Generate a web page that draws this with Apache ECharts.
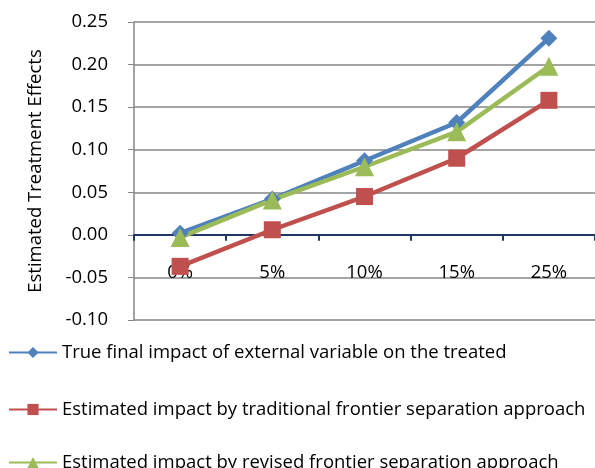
<!DOCTYPE html>
<html>
<head>
<meta charset="utf-8">
<script src="https://cdn.jsdelivr.net/npm/echarts@6/dist/echarts.min.js"></script>
<style>
html, body { margin: 0; padding: 0; background: #fff; }
#container { width: 595px; height: 468px; }
</style>
</head>
<body>
<div id="container"></div>
<script>
// 数据
var categories = ['0%', '5%', '10%', '15%', '25%'];
var trueImpact = [0.002, 0.042, 0.087, 0.132, 0.231];
var traditional = [-0.037, 0.006, 0.045, 0.090, 0.158];
var revised = [-0.003, 0.041, 0.080, 0.121, 0.198];
var seriesNames = [
    'True final impact of external variable on the treated',
    'Estimated impact by traditional frontier separation approach',
    'Estimated impact by revised frontier separation approach'
];

var dom = document.getElementById("container");
var myChart = echarts.init(dom);
var font = 'Open Sans';
var fs = 18.5;

// 图例分三个放，避免竖排时换列
var legendTops = [343, 400, 453];
var legends = seriesNames.map(function (n, i) {
    return {
        orient: 'vertical',
        left: 8,
        top: legendTops[i],
        padding: 0,
        itemWidth: 48,
        itemHeight: 14,
        itemGap: 5,
        textStyle: { color: '#000', fontSize: fs, fontFamily: font },
        data: [n]
    };
});

myChart.setOption({
    animation: false,
    textStyle: { fontFamily: font },
    grid: { left: 134, right: 0, top: 22, height: 298 },
    xAxis: [{
        type: 'category',
        data: categories,
        boundaryGap: true,
        axisLine: { onZero: true, lineStyle: { color: '#1F3864', width: 2 } },
        axisTick: { show: true, length: 6, lineStyle: { color: '#1F3864', width: 2 } },
        axisLabel: { show: false }
    }, {
        // 只用来放标签，挪到零线下方
        type: 'category',
        data: categories,
        position: 'bottom',
        offset: -85,
        boundaryGap: true,
        axisLine: { show: false },
        axisTick: { show: false },
        axisLabel: { margin: 28, color: '#000', fontSize: fs, fontFamily: font }
    }],
    yAxis: {
        type: 'value',
        min: -0.10, max: 0.25, interval: 0.05,
        name: 'Estimated Treatment Effects',
        nameLocation: 'middle',
        nameGap: 89,
        nameTextStyle: { color: '#000', fontSize: fs, fontFamily: font },
        axisLine: { show: true, lineStyle: { color: '#868686', width: 1.5 } },
        axisTick: { show: true, length: 6, lineStyle: { color: '#868686' } },
        axisLabel: { margin: 26, color: '#000', fontSize: fs, fontFamily: font,
            formatter: function (v) { return v.toFixed(2); } },
        splitLine: { lineStyle: { color: '#868686', width: 1.5 } }
    },
    legend: legends,
    series: [{
        name: seriesNames[0],
        type: 'line',
        data: trueImpact,
        symbol: 'diamond',
        symbolSize: 17,
        lineStyle: { color: '#4F81BD', width: 4.5 },
        itemStyle: { color: '#4F81BD' }
    }, {
        name: seriesNames[1],
        type: 'line',
        data: traditional,
        symbol: 'rect',
        symbolSize: 17,
        lineStyle: { color: '#C0504D', width: 4.5 },
        itemStyle: { color: '#C0504D' }
    }, {
        name: seriesNames[2],
        type: 'line',
        data: revised,
        symbol: 'triangle',
        symbolSize: 19,
        lineStyle: { color: '#9BBB59', width: 4.5 },
        itemStyle: { color: '#9BBB59' }
    }]
});
</script>
</body>
</html>
